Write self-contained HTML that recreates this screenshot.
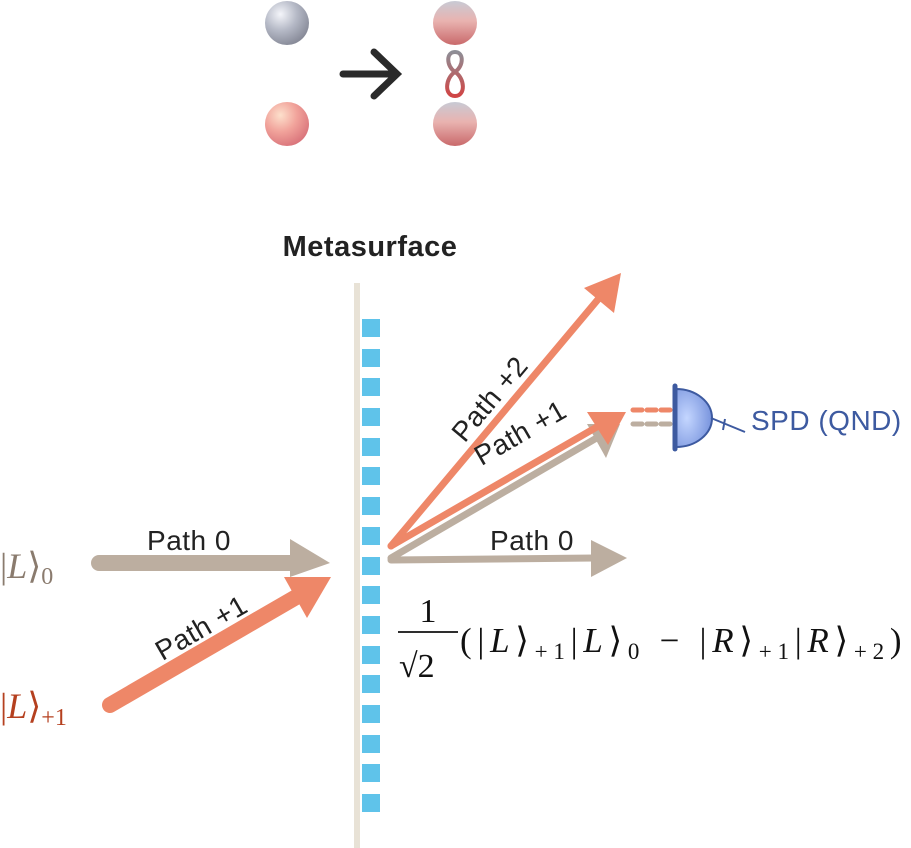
<!DOCTYPE html>
<html><head><meta charset="utf-8"><style>html,body{margin:0;padding:0;background:#fff}svg{display:block}</style></head>
<body>
<svg width="911" height="848" viewBox="0 0 911 848" xmlns="http://www.w3.org/2000/svg">
<defs>
<radialGradient id="gs" cx="0.35" cy="0.3" r="0.75"><stop offset="0" stop-color="#f4f5fa"/><stop offset="0.5" stop-color="#b5b9c6"/><stop offset="1" stop-color="#858896"/></radialGradient>
<radialGradient id="rs" cx="0.35" cy="0.3" r="0.75"><stop offset="0" stop-color="#fde0cc"/><stop offset="0.5" stop-color="#f1a39b"/><stop offset="1" stop-color="#d9737a"/></radialGradient>
<linearGradient id="ms" x1="0" y1="0" x2="0" y2="1"><stop offset="0" stop-color="#c8cad4"/><stop offset="0.45" stop-color="#e9b3b0"/><stop offset="1" stop-color="#c9696b"/></linearGradient>
<linearGradient id="inf" x1="0" y1="0" x2="0" y2="1"><stop offset="0" stop-color="#8e8e96"/><stop offset="1" stop-color="#d04545"/></linearGradient>
<radialGradient id="det" cx="0.3" cy="0.5" r="0.8"><stop offset="0" stop-color="#c4d6ff"/><stop offset="1" stop-color="#6d8ad8"/></radialGradient>
</defs>
<!-- top -->
<circle cx="287" cy="23" r="22" fill="url(#gs)"/>
<circle cx="287" cy="124" r="22" fill="url(#rs)"/>
<circle cx="455" cy="23" r="22" fill="url(#ms)"/>
<circle cx="455" cy="124" r="22" fill="url(#ms)"/>
<path d="M455 72 C446 66 446 52 455 52 C464 52 464 66 455 72 C445 78 444 96 455 96 C466 96 465 78 455 72 Z" fill="none" stroke="url(#inf)" stroke-width="4"/>
<g stroke="#2a2a2a" stroke-width="7" stroke-linecap="round" fill="none"><line x1="343" y1="74" x2="396" y2="74"/><polyline points="374,52 397,74 374,96"/></g>
<!-- metasurface -->
<text x="370" y="256" font-family="Liberation Sans, sans-serif" font-weight="bold" font-size="29" letter-spacing="0.5" text-anchor="middle" fill="#222">Metasurface</text>
<rect x="354" y="283" width="6" height="565" fill="#e8e2d6"/>
<g fill="#5fc3ea">
<rect x="362" y="319" width="18" height="18"/><rect x="362" y="349" width="18" height="18"/><rect x="362" y="378" width="18" height="18"/><rect x="362" y="408" width="18" height="18"/><rect x="362" y="438" width="18" height="18"/><rect x="362" y="467" width="18" height="18"/><rect x="362" y="497" width="18" height="18"/><rect x="362" y="527" width="18" height="18"/><rect x="362" y="557" width="18" height="18"/><rect x="362" y="586" width="18" height="18"/><rect x="362" y="616" width="18" height="18"/><rect x="362" y="646" width="18" height="18"/><rect x="362" y="675" width="18" height="18"/><rect x="362" y="705" width="18" height="18"/><rect x="362" y="735" width="18" height="18"/><rect x="362" y="764" width="18" height="18"/><rect x="362" y="794" width="18" height="18"/>
</g>
<!-- left arrows -->
<line x1="99" y1="563" x2="295" y2="563" stroke="#bcaea0" stroke-width="16" stroke-linecap="round"/>
<polygon points="290,539 330,563 290,577" fill="#bcaea0"/>
<line x1="110" y1="705" x2="298" y2="596" stroke="#ee8768" stroke-width="16" stroke-linecap="round"/>
<polygon points="284,577 331,577 307,618" fill="#ee8768"/>
<text font-family="Liberation Sans, sans-serif" font-size="28" letter-spacing="0.5" fill="#222" x="189" y="550" text-anchor="middle">Path 0</text>
<text font-family="Liberation Sans, sans-serif" font-size="28" letter-spacing="0.5" fill="#222" text-anchor="middle" transform="translate(206,636) rotate(-30)">Path +1</text>
<text x="0" y="578" font-family="Liberation Serif, serif" font-size="36" fill="#8a7b6e">|<tspan font-style="italic">L</tspan>⟩<tspan font-size="24" dy="6">0</tspan></text>
<text x="0" y="718" font-family="Liberation Serif, serif" font-size="36" fill="#b5401f">|<tspan font-style="italic">L</tspan>⟩<tspan font-size="24" dy="7">+1</tspan></text>
<!-- right arrows -->
<line x1="391" y1="560" x2="595" y2="558" stroke="#bcaea0" stroke-width="7" stroke-linecap="round"/>
<polygon points="591,540 627,558 591,577" fill="#bcaea0"/>
<line x1="391" y1="558" x2="600" y2="436" stroke="#bcaea0" stroke-width="7" stroke-linecap="round"/>
<polygon points="587,424 620,424 606,458" fill="#bcaea0"/>
<line x1="391" y1="546" x2="602" y2="424" stroke="#ee8768" stroke-width="7" stroke-linecap="round"/>
<polygon points="587,412 626,412 608,445" fill="#ee8768"/>
<line x1="391" y1="546" x2="600" y2="297" stroke="#ee8768" stroke-width="7" stroke-linecap="round"/>
<polygon points="584,288 621,273 614,313" fill="#ee8768"/>
<text font-family="Liberation Sans, sans-serif" font-size="28" letter-spacing="0.5" fill="#222" x="532" y="550" text-anchor="middle">Path 0</text>
<text font-family="Liberation Sans, sans-serif" font-size="28" letter-spacing="0.5" fill="#222" text-anchor="middle" transform="translate(525,441) rotate(-30)">Path +1</text>
<text font-family="Liberation Sans, sans-serif" font-size="28" letter-spacing="0.5" fill="#222" text-anchor="middle" transform="translate(497,405) rotate(-50)">Path +2</text>
<!-- detector -->
<line x1="633" y1="410" x2="672" y2="410" stroke="#ee8768" stroke-width="5" stroke-dasharray="9,5" stroke-linecap="round"/>
<line x1="633" y1="424" x2="672" y2="424" stroke="#bcaea0" stroke-width="5" stroke-dasharray="9,5" stroke-linecap="round"/>
<path d="M676 389 A36 29 0 0 1 676 447 Z" fill="url(#det)" stroke="#3d5aa0" stroke-width="2"/>
<line x1="675" y1="386" x2="675" y2="449" stroke="#3d5aa0" stroke-width="5" stroke-linecap="round"/>
<line x1="711" y1="418" x2="745" y2="432" stroke="#3d5aa0" stroke-width="2"/>
<line x1="725" y1="419" x2="723" y2="430" stroke="#3d5aa0" stroke-width="2"/>
<text x="751" y="430" font-family="Liberation Sans, sans-serif" font-size="28" letter-spacing="0.5" fill="#3d5aa0">SPD (QND)</text>
<!-- formula -->
<g font-family="Liberation Serif, serif" fill="#111">
<text x="428" y="622" font-size="34" text-anchor="middle">1</text>
<line x1="398" y1="632" x2="458" y2="632" stroke="#111" stroke-width="1.8"/>
<text x="399" y="677" font-size="34">√2</text>
<text x="460" y="652" font-size="35" letter-spacing="2.5" textLength="444" lengthAdjust="spacing">(|<tspan font-style="italic">L</tspan>⟩<tspan font-size="23" dy="7">+1</tspan><tspan dy="-7">|</tspan><tspan font-style="italic">L</tspan>⟩<tspan font-size="23" dy="7">0</tspan><tspan dy="-7"> − |</tspan><tspan font-style="italic">R</tspan>⟩<tspan font-size="23" dy="7">+1</tspan><tspan dy="-7">|</tspan><tspan font-style="italic">R</tspan>⟩<tspan font-size="23" dy="7">+2</tspan><tspan dy="-7">)</tspan></text>
</g>
</svg>
</body></html>
